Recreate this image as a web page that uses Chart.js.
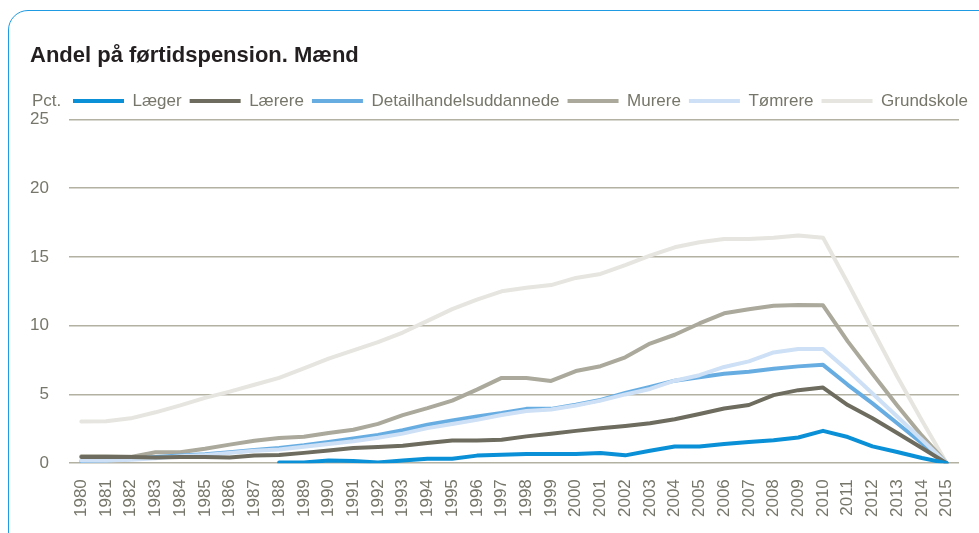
<!DOCTYPE html>
<html>
<head>
<meta charset="utf-8">
<script src="https://cdn.jsdelivr.net/npm/chart.js@4.4.0/dist/chart.umd.min.js"></script>
<style>
  body { margin: 0; width: 979px; height: 533px; overflow: hidden; background: #fff; position: relative; }
  .card { position: absolute; left: 8px; top: 10px; width: 990px; height: 540px; border: 1.5px solid #1e9be3; border-radius: 20px; }
  #chart { position: absolute; left: 0; top: 0; }
</style>
</head>
<body>
<div class="card"></div>
<canvas id="chart" width="979" height="533"></canvas>
<script>
const years = ['1980','1981','1982','1983','1984','1985','1986','1987','1988','1989',
               '1990','1991','1992','1993','1994','1995','1996','1997','1998','1999',
               '2000','2001','2002','2003','2004','2005','2006','2007','2008','2009',
               '2010','2011','2012','2013','2014','2015'];

const laeger = [null,null,null,null,null,null,null,null,0.05,0.05,
                0.2,0.15,0.05,0.2,0.33,0.33,0.55,0.62,0.67,0.67,
                0.67,0.74,0.57,0.91,1.22,1.22,1.39,1.54,1.66,1.87,
                2.35,1.9,1.22,0.81,0.38,0];
const laerere = [0.45,0.45,0.45,0.42,0.45,0.45,0.42,0.55,0.6,0.75,
                 0.93,1.1,1.17,1.27,1.46,1.65,1.65,1.7,1.95,2.14,
                 2.35,2.54,2.71,2.9,3.19,3.58,3.98,4.23,4.95,5.31,
                 5.5,4.23,3.27,2.2,1.1,0];
const detail = [0.15,0.2,0.3,0.45,0.55,0.65,0.8,0.95,1.1,1.3,
                1.55,1.8,2.05,2.4,2.8,3.1,3.4,3.65,3.95,3.95,
                4.25,4.6,5.1,5.55,6.0,6.25,6.5,6.65,6.87,7.04,
                7.15,5.7,4.35,2.9,1.45,0];
const murere = [0.5,0.5,0.46,0.8,0.8,1.05,1.35,1.63,1.83,1.92,
                2.2,2.43,2.86,3.5,4.0,4.55,5.35,6.2,6.2,5.98,
                6.7,7.05,7.7,8.7,9.34,10.16,10.9,11.2,11.45,11.5,
                11.48,8.86,6.5,4.2,2.0,0];
const toemrere = [0.2,0.2,0.25,0.35,0.5,0.6,0.75,0.9,1.0,1.2,
                  1.4,1.6,1.85,2.15,2.55,2.85,3.15,3.5,3.8,3.9,
                  4.2,4.55,5.0,5.4,6.0,6.4,7.0,7.4,8.05,8.3,
                  8.3,6.75,5.07,3.4,1.7,0];
const grundskole = [3.03,3.05,3.26,3.7,4.2,4.75,5.2,5.7,6.2,6.9,
                    7.6,8.2,8.8,9.5,10.35,11.2,11.9,12.5,12.75,12.95,
                    13.47,13.76,14.4,15.1,15.7,16.07,16.3,16.3,16.4,16.55,
                    16.4,13.1,9.7,6.3,3.1,0];

const sans = "'Liberation Sans', Arial, sans-serif";
const textGrey = '#77766a';
const legendPad = 8;

function line(label, data, color, order) {
    return {
        label: label,
        data: data,
        borderColor: color,
        backgroundColor: color,
        borderWidth: 4,
        borderCapStyle: 'round',
        borderJoinStyle: 'round',
        pointRadius: 0,
        pointStyle: 'line',
        tension: 0,
        order: order
    };
}

// "Pct." label next to the legend, and legend shifted to the right of it
const pctLabel = {
    id: 'pctLabel',
    afterLayout(chart) {
        chart.legend.left = 65;
        chart.legend.right = 1000;
    },
    afterDraw(chart) {
        const ctx = chart.ctx;
        const lg = chart.legend;
        ctx.save();
        ctx.font = '17px ' + sans;
        ctx.fillStyle = textGrey;
        ctx.textBaseline = 'middle';
        ctx.textAlign = 'left';
        ctx.fillText('Pct.', 32, lg.top + legendPad + 8.5);
        ctx.restore();
    }
};

new Chart(document.getElementById('chart').getContext('2d'), {
    type: 'line',
    data: {
        labels: years,
        datasets: [
            line('Læger', laeger, '#0a90d6', 0),
            line('Lærere', laerere, '#6d6c5e', 1),
            line('Detailhandelsuddannede', detail, '#68ade2', 3),
            line('Murere', murere, '#aba99b', 4),
            line('Tømrere', toemrere, '#cde0f5', 2),
            line('Grundskole', grundskole, '#e6e5df', 5)
        ]
    },
    options: {
        responsive: false,
        animation: false,
        devicePixelRatio: 1,
        layout: { padding: { left: 30, right: 20, top: 0, bottom: 8 } },
        plugins: {
            title: {
                display: true,
                text: 'Andel på førtidspension. Mænd',
                align: 'start',
                color: '#231f20',
                font: { family: sans, size: 22, weight: 'bold' },
                padding: { top: 43, bottom: 15 }
            },
            legend: {
                position: 'top',
                align: 'start',
                labels: {
                    usePointStyle: true,
                    pointStyleWidth: 51,
                    boxHeight: 4,
                    padding: legendPad,
                    color: textGrey,
                    font: { family: sans, size: 17 },
                    sort: (a, b) => a.datasetIndex - b.datasetIndex
                }
            },
            tooltip: { enabled: false }
        },
        scales: {
            x: {
                offset: true,
                grid: { display: false },
                border: { display: false },
                afterFit(scale) {
                    scale.paddingLeft = 0;
                    scale.paddingRight = 0;
                },
                ticks: {
                    autoSkip: false,
                    minRotation: 90,
                    maxRotation: 90,
                    padding: 8,
                    color: textGrey,
                    font: { family: sans, size: 17 }
                }
            },
            y: {
                min: 0,
                max: 25,
                afterFit(scale) {
                    scale.width = 39;
                },
                ticks: {
                    stepSize: 5,
                    padding: 20,
                    color: textGrey,
                    font: { family: sans, size: 17 }
                },
                grid: { color: '#b3b1a2', lineWidth: 1.5, drawTicks: false },
                border: { display: false }
            }
        }
    },
    plugins: [pctLabel]
});
</script>
</body>
</html>
